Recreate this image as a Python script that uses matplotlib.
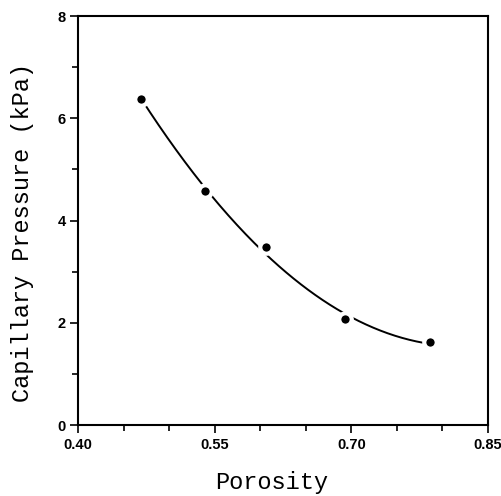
import numpy as np
import matplotlib
matplotlib.use("Agg")
import matplotlib.pyplot as plt
from matplotlib.ticker import MultipleLocator, FixedLocator

porosity = [0.4695, 0.5394, 0.606, 0.6927, 0.786]
pressure = [6.38, 4.58, 3.48, 2.07, 1.62]
x_ticks = [0.40, 0.55, 0.70, 0.85]
x_tick_labels = ["0.40", "0.55", "0.70", "0.85"]
y_ticks = [0, 2, 4, 6, 8]

fig = plt.figure(figsize=(5.02, 4.96), dpi=100)
ax = fig.add_axes([0.1554, 0.1431, 0.8166, 0.8246])

# quadratic trend fitted to the data
coef = np.polyfit(porosity, pressure, 2)
xs = np.linspace(min(porosity), max(porosity), 200)
ax.plot(xs, np.polyval(coef, xs), color="black", lw=1.4, zorder=2)
ax.plot(porosity, pressure, linestyle="none", marker="o", ms=9, mew=3,
        mfc="black", mec="white", zorder=3, clip_on=False)

ax.set_xlim(0.40, 0.85)
ax.set_ylim(0, 8)
ax.xaxis.set_major_locator(FixedLocator(x_ticks))
ax.set_xticklabels(x_tick_labels)
ax.xaxis.set_minor_locator(MultipleLocator(0.05))
ax.yaxis.set_major_locator(FixedLocator(y_ticks))
ax.yaxis.set_minor_locator(MultipleLocator(1))

for s in ax.spines.values():
    s.set_linewidth(1.5)
ax.tick_params(which="both", direction="out", width=1.2, top=False, right=False)
ax.tick_params(which="major", length=6, labelsize=10.5, pad=3)
ax.tick_params(which="minor", length=4)
for lab in ax.get_xticklabels() + ax.get_yticklabels():
    lab.set_fontweight("bold")
    lab.set_family("Liberation Sans")

lab_font = dict(family="Liberation Mono", size=17)
fig.text(0.541, 0.014, "Porosity", ha="center", va="baseline", **lab_font)
fig.text(0.045, 0.532, "Capillary Pressure (kPa)", rotation=90,
         ha="center", va="center", **lab_font)

fig.savefig("out.png", dpi=100)
